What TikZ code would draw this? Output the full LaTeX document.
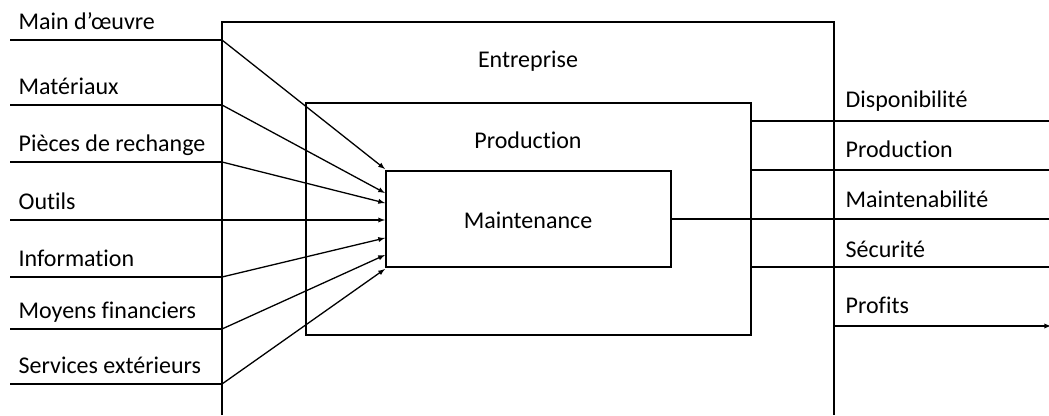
\documentclass[tikz,border=0pt]{standalone}
\usepackage{fontspec}
\setmainfont[Ligatures=NoCommon]{Carlito}
\usetikzlibrary{positioning}
\tikzstyle{boxnode} = [draw, rectangle, inner sep=0pt]
\tikzstyle{lblnode} = [anchor=base west, inner sep=0pt]
\tikzstyle{titlenode} = [anchor=base, inner sep=0pt]

\begin{document}
\begin{tikzpicture}[x=1pt, y=-1pt, line width=1.3pt, >=latex,
    every node/.style={font=\fontsize{24}{28}\selectfont}]
  \useasboundingbox (0,0) rectangle (1049,415);

  % the three boxes
  \coordinate (entSW) at (222,415);
  \coordinate (entNW) at (222,22);
  \coordinate (entNE) at (834,22);
  \coordinate (entSE) at (834,415);
  \draw (entSW) -- (entNW) -- (entNE) -- (entSE);
  \node[boxnode, minimum width=445pt, minimum height=232pt] (prod) at (528.5,219) {};
  \node[boxnode, minimum width=285pt, minimum height=96pt] (maint) at (528.5,219) {};

  \node[titlenode] (entlbl) at (528,67) {Entreprise};
  \node[titlenode] (prodlbl) at (528,148) {Production};
  \node[titlenode] (maintlbl) at (528,228) {Maintenance};

  % inputs
  \foreach \txt/\ly/\ty [count=\i] in {{Main d’œuvre}/40/169, Matériaux/105/193,
      {Pièces de rechange}/162/203, Outils/220/220, Information/277/238,
      {Moyens financiers}/329/255, {Services extérieurs}/384/269} {
    \coordinate (in\i) at (10,\ly);
    \coordinate (ent\i) at (222,\ly);
    \coordinate (tip\i) at (385,\ty);
    \node[lblnode] (inlbl\i) at (18,\ly-11) {\txt};
    \draw (in\i) -- (ent\i);
    \draw[->] (ent\i) -- (tip\i);
  }

  % outputs
  \coordinate (out1) at (1049,121);
  \coordinate (out2) at (1049,170);
  \coordinate (out3) at (1049,219);
  \coordinate (out4) at (1049,267);
  \coordinate (out5) at (1051,326);
  \coordinate (profS) at (834,326);
  \draw (prod.east |- out1) -- (out1);
  \draw (prod.east |- out2) -- (out2);
  \draw (maint.east) -- (out3);
  \draw (prod.east |- out4) -- (out4);
  \draw[->] (profS) -- (out5);

  \node[lblnode] (outlbl1) at (845,107) {Disponibilité};
  \node[lblnode] (outlbl2) at (845,157) {Production};
  \node[lblnode] (outlbl3) at (845,207) {Maintenabilité};
  \node[lblnode] (outlbl4) at (845,257) {Sécurité};
  \node[lblnode] (outlbl5) at (845,313) {Profits};
\end{tikzpicture}
\end{document}
